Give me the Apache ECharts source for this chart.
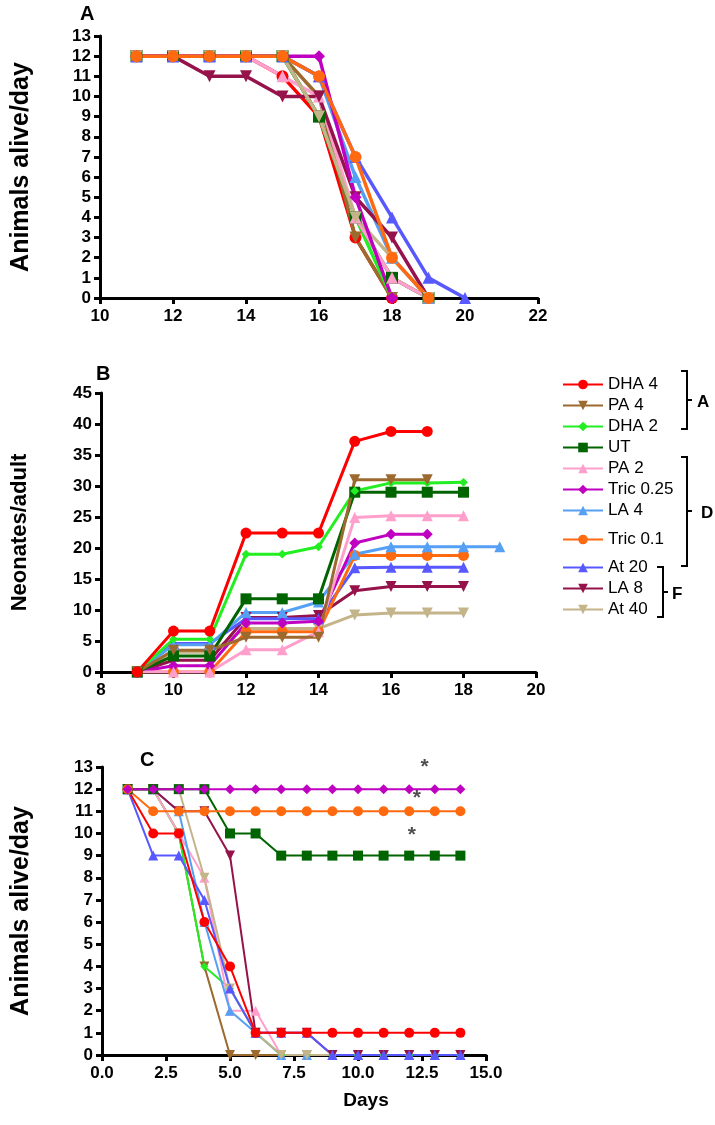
<!DOCTYPE html>
<html><head><meta charset="utf-8">
<script src="https://cdn.jsdelivr.net/npm/echarts@6/dist/echarts.min.js"></script>
<style>html,body{margin:0;padding:0;background:#fff}#c{width:715px;height:1125px}</style>
</head><body><div id="c"></div>
<script>
// ---------- DATA ----------
const names = ['DHA 4','PA 4','DHA 2','UT','PA 2','Tric 0.25','LA 4','Tric 0.1','At 20','LA 8','At 40'];

// Panel A: animals alive/day (x = day)
const daysA = [11,12,13,14,15,16,17,18,19,20];
const A_DHA4    = [12,12,12,12,11,9,3,0];
const A_PA4     = [12,12,12,12,12,10,3,0];
const A_DHA2    = [12,12,12,12,12,9,4,0];
const A_UT      = [12,12,12,12,12,9,4,1,0];
const A_PA2     = [12,12,12,12,11,10,4,1,0];
const A_Tric025 = [12,12,12,12,12,12,5,0];
const A_LA4     = [12,12,12,12,12,11,6,2,0];
const A_Tric01  = [12,12,12,12,12,11,7,2,0];
const A_At20    = [12,12,12,12,12,11,7,4,1,0];
const A_LA8     = [12,12,11,11,10,10,5,3,0];
const A_At40    = [12,12,12,12,12,9,4,2,0];

// Panel B: neonates/adult (x = day)
const daysB = [9,10,11,12,13,14,15,16,17,18,19];
const B_DHA4    = [0,6.6,6.6,22.4,22.4,22.4,37.2,38.8,38.8];
const B_PA4     = [0,3.5,3.5,5.6,5.6,5.6,31,31,31];
const B_DHA2    = [0,5.3,5.3,19,19,20.2,29.2,30.5,30.5,30.6];
const B_UT      = [0,2.6,2.6,11.8,11.8,11.8,29,29,29,29];
const B_PA2     = [0,0,0,3.6,3.6,6.5,24.9,25.2,25.2,25.2];
const B_Tric025 = [0,1,1,7.9,7.9,8.2,20.8,22.2,22.2];
const B_LA4     = [0,4.4,4.4,9.6,9.6,11.3,19,20.2,20.2,20.2,20.2];
const B_Tric01  = [0,0,0,6.5,6.5,6.5,18.8,18.8,18.8,18.8];
const B_At20    = [0,4.6,4.6,8.6,8.6,8.6,16.8,16.9,16.9,16.9];
const B_LA8     = [0,1.9,1.9,8.8,8.8,9.1,13.1,13.8,13.8,13.8];
const B_At40    = [0,3.2,3.2,7.0,7.0,7.0,9.2,9.5,9.5,9.5];

// Panel C: animals alive/day (x = days)
const daysC = [1,2,3,4,5,6,7,8,9,10,11,12,13,14];
const C_DHA4    = [12,10,10,6,4,1,1,1,1,1,1,1,1,1];
const C_PA4     = [12,12,10,4,0,0,0,0,0,0,0,0,0,0];
const C_DHA2    = [12,12,10,4,3,1,0,0,0,0,0,0,0,0];
const C_UT      = [12,12,12,12,10,10,9,9,9,9,9,9,9,9];
const C_PA2     = [12,12,10,8,2,2,0,0,0,0,0,0,0,0];
const C_Tric025 = [12,12,12,12,12,12,12,12,12,12,12,12,12,12];
const C_LA4     = [12,12,11,6,2,1,0,0,0,0,0,0,0,0];
const C_Tric01  = [12,11,11,11,11,11,11,11,11,11,11,11,11,11];
const C_At20    = [12,9,9,7,3,1,1,1,0,0,0,0,0,0];
const C_LA8     = [12,12,11,11,9,1,1,1,0,0,0,0,0,0];
const C_At40    = [12,12,12,8,3,1,0,0,0,0,0,0,0,0];
const starsC    = [[12.6,13.0],[12.3,11.6],[12.1,9.9]];

const ticksA = {min:10,max:22,interval:2};
const ticksB = {min:8,max:20,interval:2};
const ticksC = {min:0,max:15,interval:2.5};

// ---------- STYLE ----------
const colors = {'DHA 4':'#FF0000','PA 4':'#9C6A2E','DHA 2':'#22EE22','UT':'#006400','PA 2':'#FF9FCC',
  'Tric 0.25':'#C000C0','LA 4':'#55A0F5','Tric 0.1':'#FF6A10','At 20':'#5858FF','LA 8':'#96124A','At 40':'#C4B48A'};
const symbols = {'DHA 4':'circle','PA 4':'triangle','DHA 2':'diamond','UT':'rect','PA 2':'triangle',
  'Tric 0.25':'diamond','LA 4':'triangle','Tric 0.1':'circle','At 20':'triangle','LA 8':'triangle','At 40':'triangle'};
const rots = {'PA 4':180,'LA 8':180,'At 40':180};
const FONT = '"Liberation Sans", Arial, sans-serif';

const dataA = {'DHA 4':A_DHA4,'PA 4':A_PA4,'DHA 2':A_DHA2,'UT':A_UT,'PA 2':A_PA2,'Tric 0.25':A_Tric025,'LA 4':A_LA4,'Tric 0.1':A_Tric01,'At 20':A_At20,'LA 8':A_LA8,'At 40':A_At40};
const dataB = {'DHA 4':B_DHA4,'PA 4':B_PA4,'DHA 2':B_DHA2,'UT':B_UT,'PA 2':B_PA2,'Tric 0.25':B_Tric025,'LA 4':B_LA4,'Tric 0.1':B_Tric01,'At 20':B_At20,'LA 8':B_LA8,'At 40':B_At40};
const dataC = {'DHA 4':C_DHA4,'PA 4':C_PA4,'DHA 2':C_DHA2,'UT':C_UT,'PA 2':C_PA2,'Tric 0.25':C_Tric025,'LA 4':C_LA4,'Tric 0.1':C_Tric01,'At 20':C_At20,'LA 8':C_LA8,'At 40':C_At40};

function mk(idx, name, days, vals, lw, size){
  const small = name === 'DHA 2';
  return {
    type:'line', name, xAxisIndex:idx, yAxisIndex:idx,
    data: vals.map((v,i)=>[days[i], v]),
    symbol: symbols[name], symbolRotate: rots[name]||0,
    symbolSize: small ? size*0.8 : size,
    showAllSymbol:true,
    lineStyle:{color:colors[name], width:lw},
    itemStyle:{color:colors[name]},
    emphasis:{disabled:true}
  };
}
const orderA = ['DHA 4','PA 4','DHA 2','UT','PA 2','LA 4','At 20','LA 8','At 40','Tric 0.25','Tric 0.1'];
const orderB = ['At 40','LA 8','At 20','Tric 0.1','LA 4','Tric 0.25','PA 2','UT','DHA 2','PA 4','DHA 4'];
const orderC = ['PA 4','DHA 2','PA 2','LA 4','At 40','LA 8','At 20','DHA 4','UT','Tric 0.1','Tric 0.25'];
const series = [];
orderA.forEach(n=>series.push(mk(0,n,daysA,dataA[n],3.5,12)));
orderB.forEach(n=>series.push(mk(1,n,daysB,dataB[n],3,11)));
orderC.forEach(n=>series.push(mk(2,n,daysC,dataC[n],2,10)));
series.push({type:'scatter', xAxisIndex:2, yAxisIndex:2, data:starsC, symbolSize:1,
  itemStyle:{color:'rgba(0,0,0,0)'},
  label:{show:true, position:'inside', formatter:'*', fontSize:21, fontWeight:'bold', color:'#222', fontFamily:FONT},
  emphasis:{disabled:true}});

function xa(idx, t, fmt){
  return {gridIndex:idx, type:'value', min:t.min, max:t.max, interval:t.interval,
    axisLine:{onZero:false, lineStyle:{color:'#000', width:3}},
    axisTick:{show:true, inside:false, length:6, lineStyle:{color:'#000', width:3}},
    axisLabel:{color:'#000', fontSize:17, fontWeight:'bold', fontFamily:FONT, margin:10, formatter:fmt},
    splitLine:{show:false}};
}
function ya(idx, max, interval, name, gap, fs){
  return {gridIndex:idx, type:'value', min:0, max, interval,
    name, nameLocation:'middle', nameGap:gap, nameRotate:90,
    nameTextStyle:{color:'#000', fontSize:fs, fontWeight:'bold', fontFamily:FONT},
    axisLine:{show:true, onZero:false, lineStyle:{color:'#000', width:3}},
    axisTick:{show:true, inside:false, length:6, lineStyle:{color:'#000', width:3}},
    axisLabel:{color:'#000', fontSize:17, fontWeight:'bold', fontFamily:FONT, margin:9},
    splitLine:{show:false}};
}

function bracket(x, y1, y2, dir){
  return {type:'polyline', shape:{points:[[x-6*dir,y1],[x,y1],[x,y2],[x-6*dir,y2]]},
    style:{stroke:'#000', lineWidth:2, fill:null}};
}
function tick(x, y){ return {type:'line', shape:{x1:x,y1:y,x2:x+5,y2:y}, style:{stroke:'#000', lineWidth:2}}; }
function txt(x,y,t,size,align){ return {type:'text', x, y, style:{text:t, fill:'#000', font:'bold '+size+'px '+FONT, textAlign:align||'left', textVerticalAlign:'middle'}}; }

const legendBase = {orient:'vertical', itemWidth:40, itemHeight:12, itemGap:4, left:557,
  textStyle:{fontSize:17, color:'#000', fontFamily:FONT}, selectedMode:false};

const option = {
  animation:false,
  backgroundColor:'#fff',
  grid:[
    {left:100, top:36, width:438, height:262},
    {left:101, top:393, width:435, height:279},
    {left:102, top:767, width:384, height:288}
  ],
  xAxis:[xa(0,ticksA), xa(1,ticksB), xa(2,ticksC, v=>v.toFixed(1))],
  yAxis:[ya(0,13,1,'Animals alive/day',66,25), ya(1,45,5,'Neonates/adult',70,22), ya(2,13,1,'Animals alive/day',68,25)],
  legend:[
    Object.assign({}, legendBase, {top:371, data:['DHA 4','PA 4','DHA 2','UT','PA 2','Tric 0.25','LA 4']}),
    Object.assign({}, legendBase, {top:526, data:['Tric 0.1']}),
    Object.assign({}, legendBase, {top:554, data:['At 20','LA 8','At 40']})
  ],
  series,
  graphic:[
    txt(80,14,'A',20), txt(96,374,'B',20), txt(140,760,'C',20),
    txt(366,1101,'Days',19,'center'),
    bracket(687,371,429,1), tick(687,400), txt(697,402,'A',17),
    bracket(687,457,566,1), tick(687,511), txt(701,513,'D',17),
    bracket(663,567,617,1), tick(663,592), txt(672,594,'F',17)
  ]
};
const chart = echarts.init(document.getElementById('c'), null, {renderer:'canvas'});
chart.setOption(option);
</script></body></html>
